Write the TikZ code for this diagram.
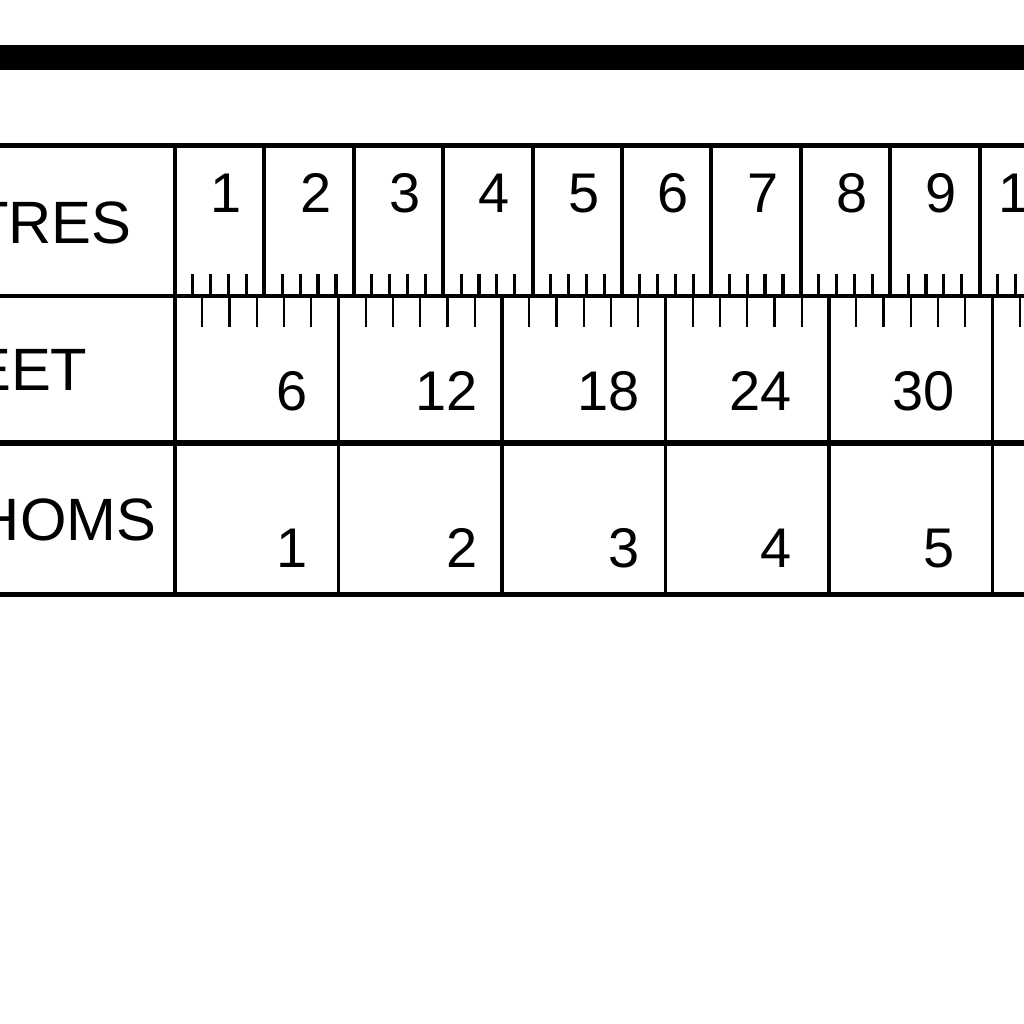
\documentclass[tikz,border=0pt]{standalone}
\usepackage{fontspec}
\setmainfont{Liberation Sans}
\begin{document}
\begin{tikzpicture}[
    x=0.01cm, y=-0.01cm,
    rowlabel/.style={font=\fontsize{17}{17}\selectfont, anchor=base, inner sep=0pt},
    scalenum/.style={font=\fontsize{15.9}{16}\selectfont, anchor=base east, inner sep=0pt},
    rule/.style={line width=1.1pt},
    heavyrule/.style={line width=1.9pt},
    metretick/.style={line width=0.9pt},
    foottick/.style={line width=0.7pt}
  ]
  \useasboundingbox (0,0) rectangle (1024,1024);

  %-----------------------------
  % Heading bar
  %-----------------------------
  \fill (-10,45) rectangle (1040,70);

  %-----------------------------
  % Frame of the scale
  %-----------------------------
  \draw[line width=1.4pt] (-10,145.5) -- (1040,145.5);
  \draw[rule] (-10,296) -- (1040,296);
  \draw[heavyrule] (-10,443) -- (1040,443);
  \draw[line width=1.3pt] (-10,594.5) -- (1040,594.5);
  \draw[rule] (175,145) -- (175,595);

  % row labels
  \node[rowlabel] (metres) at (7,243) {METRES};
  \node[rowlabel] (feet) at (11,390) {FEET};
  \node[rowlabel] (fathoms) at (14,540) {FATHOMS};

  %-----------------------------
  % 1) Metres
  %-----------------------------
  \foreach \i in {1,...,10} {
    \draw[rule] ({175+\i*89.4},145) -- ++(0,151);
  }
  \foreach \i/\gap in {1/22,2/22,3/22,4/22,5/22,6/22,7/22,8/22,9/22,10/8} {
    \node[scalenum] (metre-\i) at ({175+\i*89.4-\gap},212) {\i};
  }
  % fifths of a metre
  \foreach \i in {0,...,9} {
    \foreach \k in {1,...,4} {
      \draw[metretick] ({175+(\i+\k/5)*89.4},274) -- ++(0,22);
    }
  }

  %-----------------------------
  % 2) Feet and fathoms
  %-----------------------------
  \foreach \j in {1,...,6} {
    \draw[rule] ({175+\j*163.5},296) -- ++(0,298);
  }
  % single feet
  \foreach \j in {0,...,5} {
    \foreach \k in {1,...,5} {
      \draw[foottick] ({175+(\j*6+\k)*27.25},296) -- ++(0,31);
    }
  }
  % numbers
  \foreach \j/\x in {1/308,2/478,3/640,4/792,5/955} {
    \node[scalenum] (foot-\j) at (\x,410) {\pgfmathparse{int(6*\j)}\pgfmathresult};
    \node[scalenum] (fathom-\j) at (\x,567) {\j};
  }

\end{tikzpicture}
\end{document}
